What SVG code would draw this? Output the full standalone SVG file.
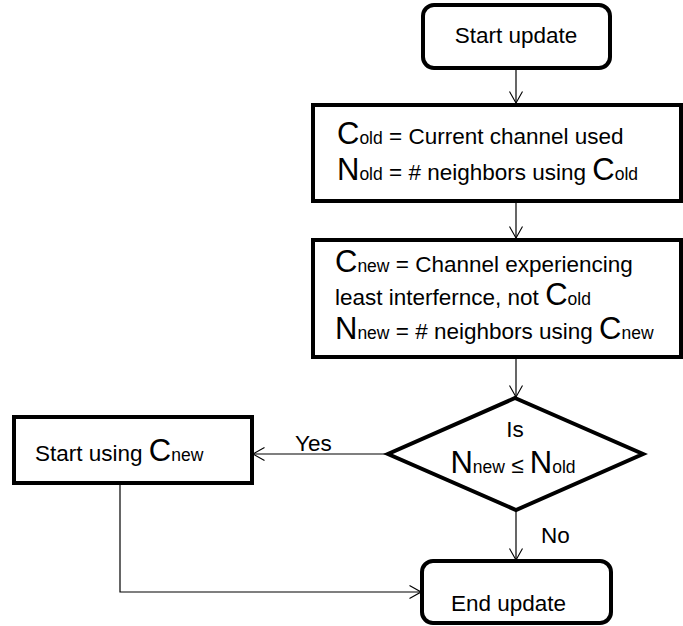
<svg xmlns="http://www.w3.org/2000/svg" width="683" height="626" viewBox="0 0 683 626">
  <defs>
    <marker id="arrow" viewBox="0 0 12 14" refX="12" refY="7" markerWidth="12" markerHeight="14" markerUnits="userSpaceOnUse" orient="auto">
      <path d="M0.5,0.5 L12,7 L0.5,13.5" fill="none" stroke="#000" stroke-width="1.1"/>
    </marker>
  </defs>
  <style>
    .box { fill: #fff; stroke: #000; stroke-width: 4; }
    .conn { fill: none; stroke: #000; stroke-width: 1.2; marker-end: url(#arrow); }
    text { font-family: "Liberation Sans", Arial, sans-serif; font-size: 22.5px; fill: #000; }
    .big { font-size: 31px; }
    .sub { font-size: 17.5px; }
  </style>

  <!-- connectors -->
  <g id="connectors">
    <line class="conn" x1="516" y1="68" x2="516" y2="103"/>
    <line class="conn" x1="516" y1="201" x2="516" y2="238"/>
    <line class="conn" x1="516" y1="358" x2="516" y2="397"/>
    <line class="conn" x1="388" y1="454" x2="253" y2="454"/>
    <line class="conn" x1="516" y1="510" x2="516" y2="560"/>
    <polyline class="conn" points="120,483 120,592 421,592"/>
    <text x="295" y="451">Yes</text>
    <text x="541" y="543">No</text>
  </g>

  <g id="start">
    <rect class="box" x="423" y="5" width="187" height="63" rx="11" ry="11"/>
    <text x="516" y="43" text-anchor="middle">Start update</text>
  </g>

  <g id="current">
    <rect class="box" x="313" y="105" width="368" height="96"/>
    <text x="337" y="144"><tspan class="big">C</tspan><tspan class="sub">old</tspan> = Current channel used</text>
    <text x="337" y="180"><tspan class="big">N</tspan><tspan class="sub">old</tspan> = # neighbors using <tspan class="big">C</tspan><tspan class="sub">old</tspan></text>
  </g>

  <g id="candidate">
    <rect class="box" x="313" y="240" width="368" height="117"/>
    <text x="335" y="272"><tspan class="big">C</tspan><tspan class="sub">new</tspan> = Channel experiencing</text>
    <text x="335" y="305">least interfernce, not <tspan class="big">C</tspan><tspan class="sub">old</tspan></text>
    <text x="335" y="339"><tspan class="big">N</tspan><tspan class="sub">new</tspan> = # neighbors using <tspan class="big">C</tspan><tspan class="sub">new</tspan></text>
  </g>

  <g id="decision">
    <polygon class="box" points="515,398 643,454 516,510 388,454"/>
    <text x="515" y="437" text-anchor="middle">Is</text>
    <text x="513" y="473" text-anchor="middle"><tspan class="big">N</tspan><tspan class="sub">new</tspan> ≤ <tspan class="big">N</tspan><tspan class="sub">old</tspan></text>
  </g>

  <g id="switch">
    <rect class="box" x="14" y="417" width="238" height="66"/>
    <text x="35" y="461">Start using <tspan class="big">C</tspan><tspan class="sub">new</tspan></text>
  </g>

  <g id="end">
    <rect class="box" x="422" y="561" width="189" height="62" rx="11" ry="11"/>
    <text x="451" y="611">End update</text>
  </g>
</svg>
